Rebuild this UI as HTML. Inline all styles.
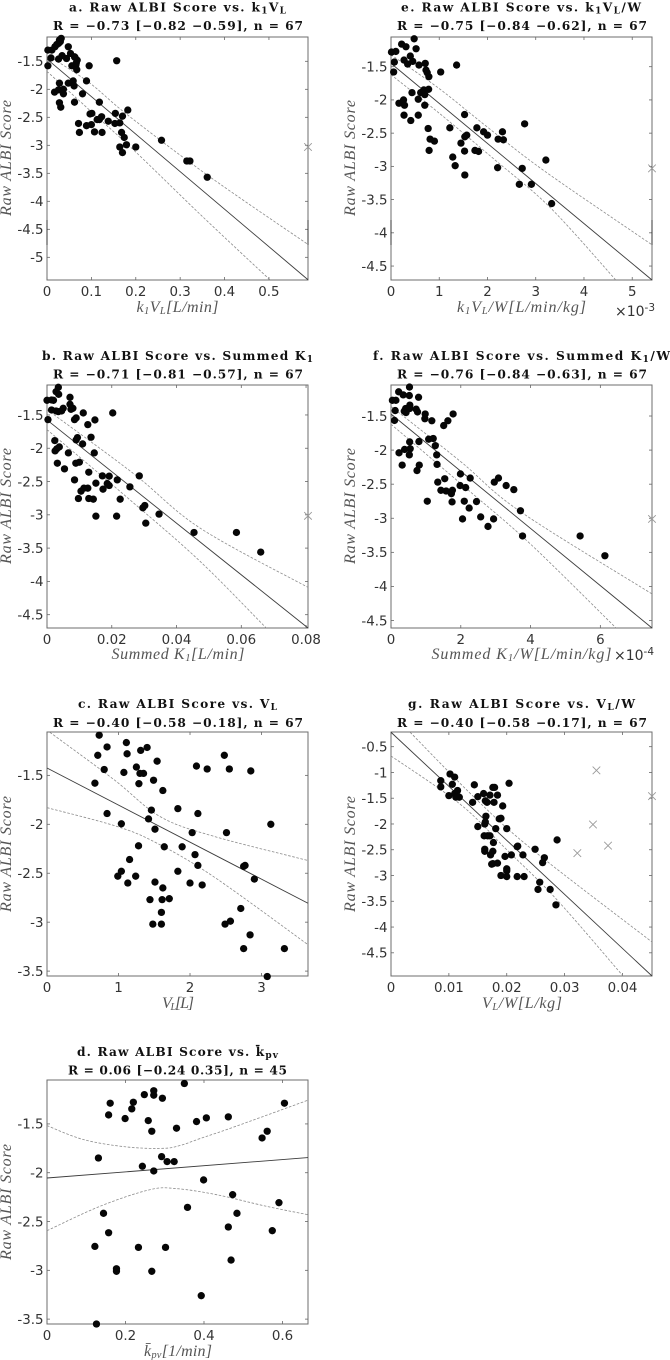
<!DOCTYPE html>
<html lang="en">
<head>
<meta charset="utf-8">
<title>Raw ALBI Score correlations</title>
<style>
html,body{margin:0;padding:0;background:#fff;}
svg{display:block;}
.ttl{font-family:"DejaVu Serif","Liberation Serif",serif;font-weight:bold;font-size:12.2px;fill:#111;text-anchor:middle;}
.ylab{font-family:"Liberation Serif",serif;font-style:italic;font-size:16px;fill:#555;text-anchor:middle;}
.xlab{font-family:"Liberation Serif",serif;font-style:italic;font-size:16px;fill:#555;text-anchor:middle;}
.tick{font-family:"DejaVu Sans",sans-serif;font-size:13.4px;fill:#333;}
.exp{font-family:"DejaVu Sans",sans-serif;font-size:14px;fill:#333;}
</style>
</head>
<body>
<svg id="figure" xmlns="http://www.w3.org/2000/svg" width="670" height="1360" viewBox="0 0 670 1360">
<rect x="0" y="0" width="670" height="1360" fill="#fff"/>

<g id="panel-a">
<text class="ttl" x="177.5" y="11.5" textLength="217" lengthAdjust="spacing">a. Raw ALBI Score vs. k<tspan font-size="9" dy="2">1</tspan><tspan dy="-2">V</tspan><tspan font-size="9" dy="2">L</tspan></text>
<text class="ttl" x="178" y="30" textLength="250" lengthAdjust="spacing">R = −0.73 [−0.82  −0.59], n = 67</text>
<text class="ylab" transform="translate(11,158) rotate(-90)" textLength="116" lengthAdjust="spacing">Raw ALBI Score</text>
<text class="xlab" x="177.5" y="312" textLength="82" lengthAdjust="spacing">k<tspan font-size="10.5" dy="2">1</tspan><tspan dy="-2">V</tspan><tspan font-size="10.5" dy="2">L</tspan><tspan dy="-2">[L/min]</tspan></text>
</g>

<g id="panel-e">
<text class="ttl" x="521" y="11.5" textLength="240" lengthAdjust="spacing">e. Raw ALBI Score vs. k<tspan font-size="9" dy="2">1</tspan><tspan dy="-2">V</tspan><tspan font-size="9" dy="2">L</tspan><tspan dy="-2">/W</tspan></text>
<text class="ttl" x="522" y="30" textLength="250" lengthAdjust="spacing">R = −0.75 [−0.84  −0.62], n = 67</text>
<text class="ylab" transform="translate(355,158) rotate(-90)" textLength="116" lengthAdjust="spacing">Raw ALBI Score</text>
<text class="xlab" x="521.5" y="312" textLength="129" lengthAdjust="spacing">k<tspan font-size="10.5" dy="2">1</tspan><tspan dy="-2">V</tspan><tspan font-size="10.5" dy="2">L</tspan><tspan dy="-2">/W[L/min/kg]</tspan></text>
<text class="exp" x="615" y="316">×10<tspan font-size="10.5" dy="-5">-3</tspan></text>
</g>

<g id="panel-b">
<text class="ttl" x="177.5" y="360" textLength="271" lengthAdjust="spacing">b. Raw ALBI Score vs. Summed K<tspan font-size="9" dy="2">1</tspan></text>
<text class="ttl" x="178" y="378.5" textLength="250" lengthAdjust="spacing">R = −0.71 [−0.81  −0.57], n = 67</text>
<text class="ylab" transform="translate(11,506) rotate(-90)" textLength="116" lengthAdjust="spacing">Raw ALBI Score</text>
<text class="xlab" x="178" y="659" textLength="133" lengthAdjust="spacing">Summed K<tspan font-size="10.5" dy="2">1</tspan><tspan dy="-2">[L/min]</tspan></text>
</g>

<g id="panel-f">
<text class="ttl" x="521.5" y="360" textLength="297" lengthAdjust="spacing">f. Raw ALBI Score vs. Summed K<tspan font-size="9" dy="2">1</tspan><tspan dy="-2">/W</tspan></text>
<text class="ttl" x="522" y="378.5" textLength="250" lengthAdjust="spacing">R = −0.76 [−0.84  −0.63], n = 67</text>
<text class="ylab" transform="translate(355,506) rotate(-90)" textLength="116" lengthAdjust="spacing">Raw ALBI Score</text>
<text class="xlab" x="521.5" y="659" textLength="180" lengthAdjust="spacing">Summed K<tspan font-size="10.5" dy="2">1</tspan><tspan dy="-2">/W[L/min/kg]</tspan></text>
<text class="exp" x="614" y="660">×10<tspan font-size="10.5" dy="-5">-4</tspan></text>
</g>

<g id="panel-c">
<text class="ttl" x="177.5" y="708" textLength="199" lengthAdjust="spacing">c. Raw ALBI Score vs. V<tspan font-size="9" dy="2">L</tspan></text>
<text class="ttl" x="178" y="727" textLength="250" lengthAdjust="spacing">R = −0.40 [−0.58  −0.18], n = 67</text>
<text class="ylab" transform="translate(11,854) rotate(-90)" textLength="116" lengthAdjust="spacing">Raw ALBI Score</text>
<text class="xlab" x="178" y="1008" textLength="32" lengthAdjust="spacing">V<tspan font-size="10.5" dy="2">L</tspan><tspan dy="-2">[L]</tspan></text>
</g>

<g id="panel-g">
<text class="ttl" x="521.5" y="708" textLength="227" lengthAdjust="spacing">g. Raw ALBI Score vs. V<tspan font-size="9" dy="2">L</tspan><tspan dy="-2">/W</tspan></text>
<text class="ttl" x="522" y="727" textLength="250" lengthAdjust="spacing">R = −0.40 [−0.58  −0.17], n = 67</text>
<text class="ylab" transform="translate(355,854) rotate(-90)" textLength="116" lengthAdjust="spacing">Raw ALBI Score</text>
<text class="xlab" x="522" y="1008" textLength="80" lengthAdjust="spacing">V<tspan font-size="10.5" dy="2">L</tspan><tspan dy="-2">/W[L/kg]</tspan></text>
</g>

<g id="panel-d">
<text class="ttl" x="177.5" y="1056" textLength="201" lengthAdjust="spacing">d. Raw ALBI Score vs. k̄<tspan font-size="9" dy="2">pv</tspan></text>
<text class="ttl" x="177.5" y="1074.5" textLength="219" lengthAdjust="spacing">R = 0.06 [−0.24 0.35], n = 45</text>
<text class="ylab" transform="translate(11,1202) rotate(-90)" textLength="116" lengthAdjust="spacing">Raw ALBI Score</text>
<text class="xlab" x="178" y="1356" textLength="68" lengthAdjust="spacing">k̄<tspan font-size="10.5" dy="2">pv</tspan><tspan dy="-2">[1/min]</tspan></text>
</g>
</svg>

<script>
// ---------- Panel a ----------
const aXTicks = [0,0.1,0.2,0.3,0.4,0.5];
const aYTicks = [-1.5,-2,-2.5,-3,-3.5,-4,-4.5,-5];
const aPointsX = [.002,.011,.018,.026,.032,.028,.022,.009,.002,.026,.034,.048,.044,.053,.063,.068,.065,.056,.067,.017,.028,.026,.037,.037,.048,.059,.061,.080,.028,.031,.062,.089,.095,.157,.118,.182,.154,.170,.097,.101,.071,.089,.100,.073,.107,.113,.123,.118,.138,.153,.164,.168,.174,.179,.164,.170,.200,.124,.258,.315,.322,.361,.062,.066,.030];
const aPointsY = [-1.30,-1.30,-1.24,-1.18,-1.09,-1.12,-1.20,-1.44,-1.58,-1.46,-1.40,-1.24,-1.45,-1.36,-1.43,-1.48,-1.57,-1.58,-1.65,-2.05,-1.89,-2.01,-2.00,-2.08,-1.89,-1.85,-1.94,-2.08,-2.24,-2.32,-2.23,-1.85,-1.58,-1.49,-2.23,-2.37,-2.43,-2.48,-2.44,-2.43,-2.61,-2.65,-2.63,-2.77,-2.76,-2.54,-2.49,-2.54,-2.57,-2.61,-2.60,-2.77,-2.86,-2.99,-3.03,-3.13,-3.03,-2.77,-2.91,-3.28,-3.28,-3.57,-1.42,-1.53,-1.15];
const aFitX = [0,0.588];
const aFitY = [-1.46,-5.40];
const aUpperX = [0.007,0.095,0.182,0.361,0.588];
const aUpperY = [-1.42,-1.88,-2.46,-3.53,-4.77];
const aLowerX = [0,0.1,0.2,0.35,0.502];
const aLowerY = [-1.68,-2.40,-3.12,-4.27,-5.40];
const aOutlierX = [0.588];
const aOutlierY = [-3.03];

// ---------- Panel e ----------
const eXTicks = [0,1,2,3,4,5];
const eYTicks = [-1.5,-2,-2.5,-3,-3.5,-4,-4.5];
const ePointsX = [.01,.10,.07,.055,.22,.31,.48,.52,.40,.27,.345,.45,.58,.71,.725,.75,.785,1.03,1.36,.435,.165,.26,.28,.565,.615,.68,.70,.78,.70,.27,.41,.565,1.525,.77,.81,.90,.79,1.22,1.28,1.33,1.45,1.53,1.57,1.525,1.74,1.815,1.78,1.92,2.0,2.22,2.31,2.33,2.77,2.21,2.72,3.21,2.66,2.91,3.33,1.53];
const ePointsY = [-1.28,-1.27,-1.43,-1.58,-1.16,-1.20,-1.08,-1.23,-1.34,-1.40,-1.46,-1.42,-1.475,-1.45,-1.55,-1.59,-1.65,-1.58,-1.475,-1.89,-2.05,-2.00,-2.08,-1.99,-1.89,-1.85,-1.92,-1.84,-2.08,-2.23,-2.31,-2.23,-2.22,-2.43,-2.59,-2.62,-2.76,-2.42,-2.86,-2.99,-2.65,-2.555,-2.53,-2.77,-2.76,-2.775,-2.42,-2.48,-2.53,-2.59,-2.48,-2.60,-2.36,-3.02,-3.03,-2.905,-3.27,-3.27,-3.56,-3.13];
const eFitX = [0,5.41];
const eFitY = [-1.45,-4.71];
const eUpperX = [0,1,2,3.2,5.41];
const eUpperY = [-1.32,-1.83,-2.41,-3.08,-4.18];
const eLowerX = [0,1,2.15,3.3,4.66];
const eLowerY = [-1.62,-2.2,-2.9,-3.62,-4.71];
const eOutlierX = [5.41];
const eOutlierY = [-3.03];

// ---------- Panel b ----------
const bXTicks = [0,0.02,0.04,0.06,0.08];
const bYTicks = [-1.5,-2,-2.5,-3,-3.5,-4,-4.5];
const bPointsX = [0,.0014,.002,.0035,.0028,.0036,.0071,.0071,.0080,.0074,.0014,.0028,.0035,.0050,.0045,.0003,.0112,.0203,.0085,.0090,.0126,.0148,.0024,.0090,.0094,.0110,.0136,.0146,.0066,.0025,.0030,.0038,.0032,.0054,.0089,.0100,.0129,.0171,.0192,.0285,.0217,.0085,.0151,.0186,.0192,.0256,.0173,.0105,.0114,.0126,.0097,.0129,.0143,.0226,.0296,.0302,.0346,.0305,.0151,.0215,.0454,.0585,.0660];
const bPointsY = [-1.28,-1.275,-1.28,-1.085,-1.15,-1.19,-1.235,-1.34,-1.40,-1.415,-1.425,-1.44,-1.45,-1.40,-1.44,-1.57,-1.47,-1.47,-1.57,-1.545,-1.645,-1.575,-1.885,-1.875,-1.84,-1.935,-1.835,-2.07,-2.07,-2.04,-2.01,-1.98,-2.225,-2.31,-2.225,-2.21,-2.36,-2.415,-2.42,-2.415,-2.475,-2.475,-2.525,-2.53,-2.56,-2.58,-2.615,-2.645,-2.60,-2.60,-2.755,-2.755,-2.765,-2.765,-2.895,-2.86,-2.99,-3.125,-3.02,-3.02,-3.265,-3.265,-3.56];
const bFitX = [0,0.0806];
const bFitY = [-1.575,-4.70];
const bUpperX = [0,0.0267,0.0473,0.0806];
const bUpperY = [-1.42,-2.38,-3.2,-4.09];
const bLowerX = [0,0.0267,0.0473,0.0677];
const bLowerY = [-1.72,-2.82,-3.7,-4.70];
const bOutlierX = [0.0806];
const bOutlierY = [-3.015];

// ---------- Panel f ----------
const fXTicks = [0,2,4,6];
const fYTicks = [-1.5,-2,-2.5,-3,-3.5,-4,-4.5];
const fPointsX = [.04,.14,.12,.10,.22,.35,.53,.525,.79,.54,.42,.48,.38,.43,.535,.72,.76,.98,.97,1.17,1.51,1.63,1.78,.80,.535,1.08,1.21,1.27,.55,.39,.23,.525,1.31,1.32,.32,.81,.745,1.99,1.54,2.27,1.34,2.96,3.08,1.98,2.14,3.30,3.52,1.43,1.58,1.76,1.73,1.04,1.75,2.10,2.45,2.24,3.71,2.57,2.94,2.05,2.78,3.77,5.42,6.13];
const fPointsY = [-1.27,-1.27,-1.42,-1.565,-1.145,-1.19,-1.075,-1.20,-1.225,-1.34,-1.39,-1.40,-1.43,-1.45,-1.39,-1.40,-1.44,-1.47,-1.54,-1.57,-1.64,-1.57,-1.47,-1.875,-1.88,-1.84,-1.83,-1.935,-1.98,-1.99,-2.04,-2.07,-2.07,-2.21,-2.22,-2.22,-2.30,-2.35,-2.42,-2.41,-2.47,-2.47,-2.41,-2.52,-2.55,-2.52,-2.58,-2.59,-2.60,-2.59,-2.64,-2.75,-2.76,-2.75,-2.755,-2.85,-2.89,-2.98,-3.01,-3.01,-3.12,-3.26,-3.26,-3.55];
const fFitX = [0,7.48];
const fFitY = [-1.47,-4.61];
const fUpperX = [0,2,3.7,7.48];
const fUpperY = [-1.36,-2.17,-2.9,-4.11];
const fLowerX = [0,2.2,4,6.45];
const fLowerY = [-1.62,-2.58,-3.38,-4.61];
const fOutlierX = [7.48];
const fOutlierY = [-3.01];

// ---------- Panel c ----------
const cXTicks = [0,1,2,3];
const cYTicks = [-1.5,-2,-2.5,-3,-3.5];
const cPointsX = [.73,.84,1.11,1.12,.71,.80,.67,1.075,1.31,1.40,1.54,1.25,1.30,1.35,1.285,1.49,1.62,2.48,2.09,2.24,2.55,2.85,.84,1.46,1.83,1.42,2.11,1.04,3.13,1.51,2.03,2.51,1.28,1.64,1.89,2.07,1.155,2.11,2.75,2.77,1.83,1.04,.99,1.24,2.90,1.13,1.51,2.00,2.17,1.62,1.44,1.61,1.71,1.60,2.71,1.48,1.60,2.49,2.565,2.84,2.75,3.32,3.08];
const cPointsY = [-1.09,-1.21,-1.165,-1.28,-1.295,-1.44,-1.58,-1.47,-1.245,-1.215,-1.355,-1.415,-1.48,-1.48,-1.585,-1.55,-1.655,-1.295,-1.405,-1.435,-1.435,-1.455,-1.89,-1.855,-1.84,-1.945,-1.89,-1.995,-2.00,-2.05,-2.085,-2.085,-2.22,-2.23,-2.23,-2.31,-2.36,-2.42,-2.43,-2.42,-2.48,-2.48,-2.53,-2.53,-2.56,-2.60,-2.59,-2.60,-2.62,-2.65,-2.77,-2.77,-2.76,-2.90,-2.86,-3.02,-3.02,-3.02,-2.99,-3.13,-3.27,-3.27,-3.555];
const cFitX = [0,3.65];
const cFitY = [-1.425,-2.807];
const cUpperX = [0.04,0.93,1.58,2.32,3.65];
const cUpperY = [-1.06,-1.54,-1.92,-2.12,-2.37];
const cLowerX = [0,0.97,1.53,2.32,3.65];
const cLowerY = [-1.83,-2.02,-2.19,-2.53,-3.23];
const cOutlierX = [];
const cOutlierY = [];

// ---------- Panel g ----------
const gXTicks = [0,0.01,0.02,0.03,0.04];
const gYTicks = [-0.5,-1,-1.5,-2,-2.5,-3,-3.5,-4,-4.5];
const gPointsX = [.0102,.0110,.0106,.0086,.0086,.0100,.0110,.0115,.0112,.0118,.0144,.0150,.0160,.0141,.0163,.0166,.0171,.0176,.0179,.0184,.0178,.0204,.0193,.0190,.0187,.0164,.0163,.0162,.0150,.0181,.0200,.0161,.0167,.0171,.0177,.0219,.0218,.0162,.0162,.0176,.0172,.0249,.0197,.0208,.0228,.0265,.0262,.0176,.0184,.0174,.0200,.0200,.0190,.0200,.0218,.0230,.0257,.0254,.0275,.0285,.0287];
const gPointsY = [-1.03,-1.09,-1.23,-1.16,-1.28,-1.45,-1.41,-1.35,-1.48,-1.48,-1.24,-1.47,-1.41,-1.58,-1.55,-1.58,-1.44,-1.29,-1.29,-1.44,-1.58,-1.21,-1.65,-1.89,-1.90,-1.85,-1.96,-2.00,-2.05,-2.09,-2.09,-2.23,-2.23,-2.23,-2.36,-2.43,-2.44,-2.49,-2.53,-2.53,-2.60,-2.49,-2.63,-2.60,-2.60,-2.655,-2.75,-2.77,-2.76,-2.78,-2.87,-2.91,-3.00,-3.02,-3.02,-3.02,-3.13,-3.27,-3.27,-3.57,-2.31];
const gFitX = [0,0.0451];
const gFitY = [-0.22,-4.95];
const gUpperX = [0.0033,0.015,0.025,0.0451];
const gUpperY = [-0.22,-1.55,-2.55,-4.29];
const gLowerX = [0,0.012,0.02,0.0285,0.0401];
const gLowerY = [-0.68,-1.62,-2.5,-3.45,-4.95];
const gOutlierX = [0.0355,0.0349,0.0375,0.0322,0.0451];
const gOutlierY = [-0.96,-2.01,-2.42,-2.565,-1.46];

// ---------- Panel d ----------
const dXTicks = [0,0.2,0.4,0.6];
const dYTicks = [-1.5,-2,-2.5,-3,-3.5];
const dPointsX = [.350,.272,.272,.248,.294,.161,.220,.216,.157,.199,.258,.267,.330,.381,.406,.462,.605,.561,.548,.131,.292,.306,.324,.243,.272,.399,.473,.591,.358,.144,.484,.157,.462,.574,.122,.233,.302,.469,.177,.177,.267,.393,.126];
const dPointsY = [-1.086,-1.16,-1.206,-1.20,-1.237,-1.288,-1.278,-1.346,-1.408,-1.445,-1.466,-1.575,-1.544,-1.476,-1.438,-1.428,-1.288,-1.575,-1.644,-1.849,-1.835,-1.886,-1.886,-1.934,-1.982,-2.074,-2.225,-2.307,-2.355,-2.416,-2.416,-2.615,-2.556,-2.594,-2.755,-2.765,-2.765,-2.895,-2.984,-3.01,-3.01,-3.26,-3.55];
const dFitX = [0,0.665];
const dFitY = [-2.054,-1.845];
const dUpperX = [0,0.0925,0.203,0.296,0.34,0.39,0.474,0.665];
const dUpperY = [-1.517,-1.66,-1.736,-1.75,-1.72,-1.65,-1.535,-1.257];
const dLowerX = [0,0.135,0.262,0.33,0.432,0.559,0.665];
const dLowerY = [-2.594,-2.344,-2.174,-2.163,-2.225,-2.344,-2.43];
const dOutlierX = [];
const dOutlierY = [];

// ---------- Layout (separate from data) ----------
const panels = [
  {id:'a', box:[47,37,308,280],    xlim:[0,0.588],  ylim:[-1.066,-5.405], xt:aXTicks, yt:aYTicks, px:aPointsX, py:aPointsY, fx:aFitX, fy:aFitY, ux:aUpperX, uy:aUpperY, lx:aLowerX, ly:aLowerY, ox:aOutlierX, oy:aOutlierY},
  {id:'e', box:[391,37,652,280],   xlim:[0,5.41],   ylim:[-1.053,-4.71],  xt:eXTicks, yt:eYTicks, px:ePointsX, py:ePointsY, fx:eFitX, fy:eFitY, ux:eUpperX, uy:eUpperY, lx:eLowerX, ly:eLowerY, ox:eOutlierX, oy:eOutlierY},
  {id:'b', box:[47,385,308,628],   xlim:[0,0.0806], ylim:[-1.05,-4.70],   xt:bXTicks, yt:bYTicks, px:bPointsX, py:bPointsY, fx:bFitX, fy:bFitY, ux:bUpperX, uy:bUpperY, lx:bLowerX, ly:bLowerY, ox:bOutlierX, oy:bOutlierY},
  {id:'f', box:[391,385,652,628],  xlim:[0,7.48],   ylim:[-1.045,-4.61],  xt:fXTicks, yt:fYTicks, px:fPointsX, py:fPointsY, fx:fFitX, fy:fFitY, ux:fUpperX, uy:fUpperY, lx:fLowerX, ly:fLowerY, ox:fOutlierX, oy:fOutlierY},
  {id:'c', box:[47,732,308,976],   xlim:[0,3.65],   ylim:[-1.057,-3.55],  xt:cXTicks, yt:cYTicks, px:cPointsX, py:cPointsY, fx:cFitX, fy:cFitY, ux:cUpperX, uy:cUpperY, lx:cLowerX, ly:cLowerY, ox:cOutlierX, oy:cOutlierY},
  {id:'g', box:[391,732,652,976],  xlim:[0,0.0451], ylim:[-0.215,-4.95],  xt:gXTicks, yt:gYTicks, px:gPointsX, py:gPointsY, fx:gFitX, fy:gFitY, ux:gUpperX, uy:gUpperY, lx:gLowerX, ly:gLowerY, ox:gOutlierX, oy:gOutlierY},
  {id:'d', box:[47,1080,308,1324], xlim:[0,0.665],  ylim:[-1.05,-3.55],   xt:dXTicks, yt:dYTicks, px:dPointsX, py:dPointsY, fx:dFitX, fy:dFitY, ux:dUpperX, uy:dUpperY, lx:dLowerX, ly:dLowerY, ox:dOutlierX, oy:dOutlierY}
];

const NS = 'http://www.w3.org/2000/svg';
function mk(tag, attrs, parent){
  const el = document.createElementNS(NS, tag);
  for (const k in attrs) el.setAttribute(k, attrs[k]);
  parent.appendChild(el);
  return el;
}
function smoothPath(pts){
  if (pts.length < 3) return 'M' + pts.map(p => p.join(' ')).join('L');
  let d = 'M' + pts[0][0] + ' ' + pts[0][1];
  for (let i = 0; i < pts.length - 1; i++){
    const p0 = pts[Math.max(0,i-1)], p1 = pts[i], p2 = pts[i+1], p3 = pts[Math.min(pts.length-1,i+2)];
    const c1x = p1[0] + (p2[0]-p0[0])/6, c1y = p1[1] + (p2[1]-p0[1])/6;
    const c2x = p2[0] - (p3[0]-p1[0])/6, c2y = p2[1] - (p3[1]-p1[1])/6;
    d += 'C' + c1x + ' ' + c1y + ' ' + c2x + ' ' + c2y + ' ' + p2[0] + ' ' + p2[1];
  }
  return d;
}

panels.forEach(function(p){
  const g = document.getElementById('panel-' + p.id);
  const x0 = p.box[0], y0 = p.box[1], x1 = p.box[2], y1 = p.box[3];
  const sx = v => x0 + (v - p.xlim[0]) / (p.xlim[1] - p.xlim[0]) * (x1 - x0);
  const sy = v => y0 + (v - p.ylim[0]) / (p.ylim[1] - p.ylim[0]) * (y1 - y0);
  const tickColor = '#666';

  const frame = mk('rect', {x:x0, y:y0, width:x1-x0, height:y1-y0, fill:'none', stroke:'#6e6e6e', 'stroke-width':1}, g);
  
  

  p.xt.forEach(function(v){
    const X = sx(v);
    const t1 = mk('line', {x1:X, x2:X, y1:y1, y2:y1-3, stroke:tickColor, 'stroke-width':0.8}, g);
    
    
    const t2 = mk('line', {x1:X, x2:X, y1:y0, y2:y0+3, stroke:tickColor, 'stroke-width':0.8}, g);
    
    
    const lab = mk('text', {x:X, y:y1+16, 'text-anchor':'middle', 'class':'tick'}, g);
    
    
    lab.textContent = String(v);
  });
  p.yt.forEach(function(v){
    const Y = sy(v);
    const t1 = mk('line', {x1:x0, x2:x0+3, y1:Y, y2:Y, stroke:tickColor, 'stroke-width':0.8}, g);
    
    
    const t2 = mk('line', {x1:x1, x2:x1-3, y1:Y, y2:Y, stroke:tickColor, 'stroke-width':0.8}, g);
    
    
    const lab = mk('text', {x:x0-3.5, y:Y+4.8, 'text-anchor':'end', 'class':'tick'}, g);
    
    
    lab.textContent = String(v);
  });

  const upper = mk('path', {d:smoothPath(p.ux.map((v,i)=>[sx(v),sy(p.uy[i])])), fill:'none', stroke:'#8c8c8c', 'stroke-width':0.8, 'stroke-dasharray':'2.6 1.6'}, g);
  
  
  const lower = mk('path', {d:smoothPath(p.lx.map((v,i)=>[sx(v),sy(p.ly[i])])), fill:'none', stroke:'#8c8c8c', 'stroke-width':0.8, 'stroke-dasharray':'2.6 1.6'}, g);
  
  
  const fit = mk('line', {x1:sx(p.fx[0]), y1:sy(p.fy[0]), x2:sx(p.fx[1]), y2:sy(p.fy[1]), stroke:'#3c3c3c', 'stroke-width':0.9}, g);
  
  

  p.px.forEach(function(v,i){
    const c = mk('circle', {cx:sx(v), cy:sy(p.py[i]), r:3.65, fill:'#060606'}, g);
    
    
  });
  p.ox.forEach(function(v,i){
    const X = sx(v), Y = sy(p.oy[i]), s = 3.8;
    const o = mk('path', {d:'M'+(X-s)+' '+(Y-s)+'L'+(X+s)+' '+(Y+s)+'M'+(X-s)+' '+(Y+s)+'L'+(X+s)+' '+(Y-s), fill:'none', stroke:'#9a9a9a', 'stroke-width':0.9}, g);
    
    
  });
});

// Darker frame segments seen on the top row panels
[[47,308],[391,652]].forEach(function(pair){
  pair.forEach(function(X){
    const s = mk('line', {x1:X, x2:X, y1:220, y2:245, stroke:'#333', 'stroke-width':1}, document.getElementById('figure'));
    
    
  });
});
</script>
</body>
</html>
